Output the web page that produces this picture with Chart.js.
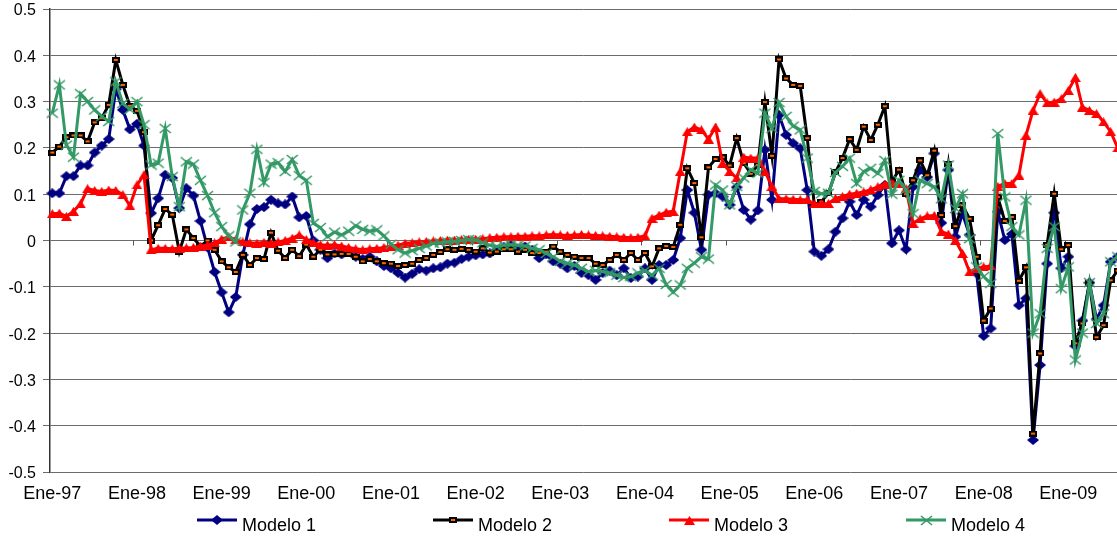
<!DOCTYPE html>
<html>
<head>
<meta charset="utf-8">
<script src="https://cdn.jsdelivr.net/npm/chart.js@4.4.1/dist/chart.umd.min.js"></script>
<style>
  html, body { margin: 0; padding: 0; background: #ffffff; overflow: hidden; }
  #wrap { width: 1117px; height: 538px; }
</style>
</head>
<body>
<div id="wrap"><canvas id="c" width="1117" height="538"></canvas></div>
<script>
// Monthly series, January 1997 onwards (index 0 = Ene-97)
const tickLabels = ['Ene-97','Ene-98','Ene-99','Ene-00','Ene-01','Ene-02','Ene-03',
                    'Ene-04','Ene-05','Ene-06','Ene-07','Ene-08','Ene-09'];
const seriesNames = ['Modelo 1', 'Modelo 2', 'Modelo 3', 'Modelo 4'];

const modelo1 = [
  0.102,0.102,0.139,0.139,0.162,0.162,0.19,0.205,0.219,0.327,
  0.282,0.24,0.252,0.205,0.059,0.091,0.142,0.135,0.07,0.113,
  0.097,0.042,-0.015,-0.068,-0.112,-0.155,-0.122,-0.031,0.035,0.068,
  0.072,0.088,0.08,0.078,0.095,0.05,0.053,0.0,-0.02,-0.038,
  -0.028,-0.03,-0.025,-0.035,-0.04,-0.035,-0.045,-0.055,-0.06,-0.07,
  -0.08,-0.072,-0.062,-0.065,-0.06,-0.058,-0.05,-0.048,-0.04,-0.035,
  -0.032,-0.03,-0.028,-0.02,-0.015,-0.01,-0.02,-0.013,-0.02,-0.038,
  -0.03,-0.045,-0.05,-0.06,-0.055,-0.07,-0.075,-0.085,-0.07,-0.065,
  -0.075,-0.06,-0.081,-0.078,-0.06,-0.085,-0.053,-0.053,-0.042,0.005,
  0.109,0.06,-0.02,0.099,0.102,0.095,0.077,0.115,0.066,0.045,
  0.065,0.196,0.088,0.271,0.228,0.21,0.199,0.109,-0.024,-0.033,
  -0.019,0.019,0.048,0.084,0.055,0.088,0.073,0.098,0.12,-0.006,
  0.022,-0.019,0.116,0.152,0.137,0.188,0.038,0.152,0.008,0.058,
  0.012,-0.071,-0.206,-0.19,0.062,0.001,0.014,-0.14,-0.125,-0.431,
  -0.269,-0.05,0.06,-0.06,-0.035,-0.228,-0.173,-0.091,-0.17,-0.14,
  -0.046,-0.035
];

const modelo2 = [
  0.19,0.203,0.223,0.227,0.227,0.214,0.255,0.264,0.293,0.39,
  0.336,0.291,0.28,0.234,0.0,0.033,0.068,0.056,-0.024,0.024,
  0.005,-0.012,0.0,-0.02,-0.045,-0.058,-0.068,-0.031,-0.053,-0.038,
  -0.04,0.017,-0.022,-0.038,-0.02,-0.034,-0.009,-0.035,-0.02,-0.03,
  -0.03,-0.029,-0.029,-0.035,-0.045,-0.04,-0.045,-0.049,-0.05,-0.055,
  -0.053,-0.05,-0.042,-0.038,-0.031,-0.025,-0.019,-0.02,-0.018,-0.02,
  -0.024,-0.017,-0.026,-0.024,-0.019,-0.019,-0.024,-0.02,-0.027,-0.027,
  -0.024,-0.013,-0.024,-0.031,-0.035,-0.038,-0.038,-0.05,-0.053,-0.042,
  -0.031,-0.042,-0.027,-0.042,-0.027,-0.056,-0.017,-0.012,-0.014,0.034,
  0.156,0.124,0.007,0.158,0.176,0.18,0.162,0.221,0.167,0.144,
  0.163,0.299,0.183,0.391,0.35,0.336,0.334,0.221,0.077,0.084,
  0.102,0.147,0.178,0.219,0.196,0.246,0.217,0.25,0.29,0.127,
  0.153,0.10,0.13,0.173,0.141,0.194,0.055,0.165,0.031,0.076,
  0.047,-0.035,-0.173,-0.147,0.094,0.042,0.051,-0.087,-0.058,-0.417,
  -0.244,-0.009,0.101,-0.019,-0.01,-0.222,-0.179,-0.092,-0.209,-0.183,
  -0.086,-0.065
];

const modelo3 = [
  0.058,0.059,0.052,0.063,0.079,0.112,0.108,0.106,0.109,0.108,
  0.099,0.075,0.12,0.142,-0.02,-0.017,-0.017,-0.018,-0.017,-0.016,
  -0.015,-0.012,-0.01,-0.005,0.003,0.008,0.002,-0.003,-0.005,-0.006,
  -0.004,-0.006,-0.003,0.0,0.005,0.012,0.002,-0.005,-0.009,-0.01,
  -0.009,-0.012,-0.015,-0.018,-0.02,-0.018,-0.017,-0.015,-0.012,-0.01,
  -0.006,-0.005,-0.003,-0.002,-0.001,0.0,0.001,0.001,0.002,0.003,
  0.003,0.004,0.006,0.007,0.008,0.008,0.009,0.009,0.01,0.01,
  0.012,0.013,0.012,0.011,0.012,0.013,0.012,0.011,0.01,0.009,
  0.008,0.007,0.006,0.007,0.01,0.048,0.055,0.061,0.063,0.149,
  0.235,0.245,0.239,0.219,0.245,0.167,0.149,0.135,0.18,0.178,
  0.178,0.149,0.117,0.09,0.09,0.089,0.088,0.088,0.079,0.079,
  0.08,0.091,0.095,0.1,0.102,0.105,0.11,0.116,0.122,0.124,
  0.124,0.112,0.037,0.047,0.053,0.054,0.019,0.014,0.0,-0.028,
  -0.068,-0.06,-0.057,-0.055,0.117,0.123,0.123,0.141,0.227,0.281,
  0.317,0.297,0.299,0.306,0.324,0.352,0.288,0.281,0.274,0.256,
  0.235,0.2
];

const modelo4 = [
  0.275,0.336,0.206,0.18,0.317,0.3,0.282,0.268,0.257,0.343,
  0.296,0.283,0.3,0.25,0.163,0.167,0.242,0.138,0.073,0.17,
  0.165,0.13,0.097,0.06,0.03,0.01,-0.003,0.066,0.102,0.197,
  0.125,0.165,0.168,0.149,0.175,0.14,0.13,0.037,0.028,0.008,
  0.018,0.012,0.02,0.032,0.024,0.02,0.023,0.01,-0.008,-0.02,
  -0.027,-0.022,-0.017,-0.012,-0.006,-0.005,-0.003,-0.002,0.0,0.002,
  0.001,-0.005,-0.01,-0.013,-0.01,-0.009,-0.01,-0.012,-0.017,-0.02,
  -0.028,-0.035,-0.045,-0.049,-0.053,-0.06,-0.067,-0.065,-0.067,-0.07,
  -0.075,-0.08,-0.078,-0.07,-0.065,-0.075,-0.06,-0.095,-0.112,-0.096,
  -0.06,-0.049,-0.035,-0.04,0.12,0.109,0.077,0.117,0.135,0.153,
  0.145,0.275,0.242,0.298,0.268,0.247,0.239,0.178,0.106,0.101,
  0.102,0.147,0.16,0.178,0.123,0.149,0.156,0.145,0.173,0.10,
  0.13,0.11,0.058,0.13,0.123,0.116,0.09,0.163,0.069,0.101,
  0.004,-0.057,-0.078,-0.093,0.231,0.094,0.03,0.012,0.087,-0.2,
  -0.158,-0.017,0.03,-0.104,-0.057,-0.258,-0.2,-0.091,-0.179,-0.158,
  -0.046,-0.035
];

const FONT = '"Liberation Sans", Arial, sans-serif';

// Marker sprites (drawn once, used for points and legend)
function sprite(w, h, paint) {
  const c = document.createElement('canvas');
  c.width = w; c.height = h;
  paint(c.getContext('2d'), w, h);
  return c;
}
const diamond = sprite(12, 10, (g, w, h) => {
  g.fillStyle = '#000080';
  g.beginPath();
  g.moveTo(w / 2, 0); g.lineTo(w, h / 2); g.lineTo(w / 2, h); g.lineTo(0, h / 2);
  g.closePath(); g.fill();
});
const square = sprite(8, 6, (g, w, h) => {
  g.fillStyle = '#000000'; g.fillRect(0, 0, w, h);
  g.fillStyle = '#ff6600'; g.fillRect(2, 2, w - 4, h - 4);
});
const triangle = sprite(11, 9, (g, w, h) => {
  g.fillStyle = '#ff0000';
  g.beginPath();
  g.moveTo(w / 2, 0); g.lineTo(w, h); g.lineTo(0, h);
  g.closePath(); g.fill();
});
const cross = sprite(13, 11, (g, w, h) => {
  g.strokeStyle = '#339966'; g.lineWidth = 1.6;
  g.beginPath();
  g.moveTo(1, 1); g.lineTo(w - 1, h - 1);
  g.moveTo(w - 1, 1); g.lineTo(1, h - 1);
  g.stroke();
});

const styles = [
  { color: '#000080', marker: diamond },
  { color: '#000000', marker: square },
  { color: '#ff0000', marker: triangle },
  { color: '#339966', marker: cross }
];
const seriesValues = [modelo1, modelo2, modelo3, modelo4];

const datasets = seriesValues.map((vals, s) => ({
  label: seriesNames[s],
  data: vals.map((v, i) => ({ x: i, y: v })),
  borderColor: styles[s].color,
  backgroundColor: styles[s].color,
  borderWidth: 3,
  pointStyle: styles[s].marker,
  pointRadius: 5,
  pointHoverRadius: 5,
  tension: 0,
  clip: 8,
  order: 4 - s
}));

// Small tick marks on the zero line at each year boundary
const zeroTicks = {
  id: 'zeroTicks',
  beforeDatasetsDraw(chart) {
    const { ctx, scales: { x, y } } = chart;
    const y0 = y.getPixelForValue(0);
    ctx.save();
    ctx.strokeStyle = '#555555';
    ctx.lineWidth = 1;
    for (let k = 0; k < tickLabels.length; k++) {
      const px = Math.round(x.getPixelForValue(11.5 + 12 * k)) + 0.5;
      if (px > chart.chartArea.right) break;
      ctx.beginPath();
      ctx.moveTo(px, y0);
      ctx.lineTo(px, y0 + 5);
      ctx.stroke();
    }
    ctx.restore();
  }
};

// Legend row under the axis labels
const legendRow = {
  id: 'legendRow',
  afterDraw(chart) {
    const { ctx } = chart;
    const starts = [197, 433, 669, 906];
    const ly = 520;
    ctx.save();
    seriesNames.forEach((name, s) => {
      const x0 = starts[s];
      ctx.strokeStyle = styles[s].color;
      ctx.lineWidth = 3;
      ctx.beginPath();
      ctx.moveTo(x0, ly);
      ctx.lineTo(x0 + 40, ly);
      ctx.stroke();
      const m = styles[s].marker;
      ctx.drawImage(m, Math.round(x0 + 20 - m.width / 2), Math.round(ly - m.height / 2));
      ctx.fillStyle = '#000000';
      ctx.font = '18px ' + FONT;
      ctx.textBaseline = 'alphabetic';
      ctx.textAlign = 'left';
      ctx.fillText(name, x0 + 45, 531);
    });
    ctx.restore();
  }
};

new Chart(document.getElementById('c'), {
  type: 'line',
  data: { datasets },
  options: {
    responsive: false,
    animation: false,
    devicePixelRatio: 1,
    layout: { autoPadding: false, padding: { top: 9, right: 0, bottom: 26, left: 0 } },
    plugins: { legend: { display: false }, tooltip: { enabled: false } },
    scales: {
      x: {
        type: 'linear',
        min: -0.326,
        max: 150.9,
        afterBuildTicks(scale) {
          scale.ticks = tickLabels.map((_, k) => ({ value: 12 * k }));
        },
        afterFit(scale) {
          scale.height = 40;
          scale.paddingLeft = 0;
          scale.paddingRight = 0;
        },
        grid: { display: false, drawTicks: false },
        border: { display: false },
        ticks: {
          autoSkip: false,
          maxRotation: 0,
          padding: 11,
          color: '#000000',
          font: { family: FONT, size: 18 },
          callback: (v, idx) => tickLabels[idx]
        }
      },
      y: {
        min: -0.5,
        max: 0.5,
        afterFit(scale) {
          scale.width = 50;
          scale.paddingTop = 0;
          scale.paddingBottom = 0;
        },
        grid: { color: '#6b6b6b', lineWidth: 1, tickLength: 7, tickColor: '#6b6b6b' },
        border: { display: true, color: '#333333', width: 1.5 },
        ticks: {
          stepSize: 0.1,
          padding: 7,
          labelOffset: 2,
          color: '#000000',
          font: { family: FONT, size: 16 },
          callback: v => String(Number(v.toFixed(1)))
        }
      }
    }
  },
  plugins: [zeroTicks, legendRow]
});
</script>
</body>
</html>
